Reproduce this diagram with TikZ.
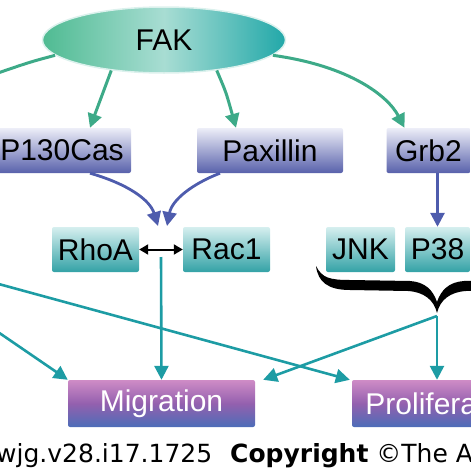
\documentclass[tikz,border=0pt]{standalone}
\usepackage{fontspec}
\setmainfont{Liberation Sans}
\newfontfamily\notefont{DejaVu Sans}
\usetikzlibrary{arrows.meta,calc,positioning,shapes.geometric}
\definecolor{fakleft}{HTML}{4FBB92}
\definecolor{fakmid}{HTML}{A8DDD3}
\definecolor{fakright}{HTML}{22A8A9}
\definecolor{arrgreen}{HTML}{3DAA88}
\definecolor{bluetop}{HTML}{EDEEF8}
\definecolor{bluebot}{HTML}{5861AB}
\definecolor{bluearr}{HTML}{4E5CAD}
\definecolor{tealtop}{HTML}{D6EFEF}
\definecolor{tealbot}{HTML}{33A2A6}
\definecolor{tealarr}{HTML}{1D9CA4}
\definecolor{pinktop}{HTML}{CF8CC6}
\definecolor{purplemid}{HTML}{9460AE}
\definecolor{purplebot}{HTML}{4C6DB8}

\begin{document}
\begin{tikzpicture}[x=1pt,y=-1pt,>={Triangle[length=14pt,width=14pt]},
  lbl/.style={font=\fontsize{30}{32}\selectfont,inner sep=0pt,minimum height=45pt,rounded corners=2pt},
  bluebox/.style={lbl,top color=bluetop,bottom color=bluebot},
  tealbox/.style={lbl,top color=tealtop,bottom color=tealbot},
  endbox/.style={lbl,minimum height=47pt,minimum width=187pt,text=white,top color=pinktop,bottom color=purplebot,middle color=purplemid},
  greenarr/.style={->,line width=3pt,draw=arrgreen},
  bluearrow/.style={->,line width=2.8pt,draw=bluearr},
  tealline/.style={->,line width=2.6pt,draw=tealarr}]
\useasboundingbox (0,0) rectangle (471,471);
\clip (0,0) rectangle (471,471);

% Kinase on top, shaded from green to teal.
\node[ellipse,minimum width=243pt,minimum height=66pt,inner sep=0pt,draw=white!60!fakmid,line width=1.5pt,
  left color=fakleft,right color=fakright,middle color=fakmid,font=\fontsize{30}{32}\selectfont] (FAK) at (164,40) {FAK};

% Adaptor row.
\node[bluebox,minimum width=138pt] (P130) at (62,150.5) {P130Cas};
\node[bluebox,minimum width=146pt] (Pax) at (270,150.5) {Paxillin};
\node[bluebox,minimum width=84pt] (Grb2) at (428.5,150.5) {Grb2};

% GTPases and MAP kinases.
\node[tealbox,minimum width=87pt] (RhoA) at (95.5,249.5) {RhoA};
\node[tealbox,minimum width=87pt] (Rac1) at (226.5,249.5) {Rac1};
\node[tealbox,minimum width=69pt] (JNK) at (360.5,249.5) {JNK};
\node[tealbox,minimum width=65pt] (P38) at (437.5,249.5) {P38};

% Outcomes.
\node[endbox] (Mig) at (161.5,403.5) {Migration};
\node[endbox] (Prol) at (445.5,403.5) {Proliferation};

% Free ends and junctions.
\coordinate (offleft) at (-5,74);
\coordinate (join) at (162,226);
\coordinate (mid) at (161,257);
\coordinate (brtip) at (437,316);
\coordinate (in1) at (-5,283);
\coordinate (in2) at (-5,330);

% FAK signals down to the adaptors.
\draw[line width=3pt,arrgreen] (FAK.188) .. controls (30,62) .. (offleft);
\draw[greenarr] (FAK.210) .. controls (103,92) .. ([xshift=28pt]P130.north);
\draw[greenarr] (FAK.330) .. controls (226,92) .. ([xshift=-34pt]Pax.north);
\draw[greenarr] (FAK.352) .. controls (350,66) and (388,96) .. ([xshift=-24pt]Grb2.north);

% Adaptors converge on the RhoA/Rac1 pair.
\draw[bluearrow] ([xshift=28pt]P130.south) .. controls (128,184) and (150,200) .. ([xshift=-4pt]join);
\draw[bluearrow] ([xshift=-50pt]Pax.south) .. controls (192,184) and (172,200) .. ([xshift=5pt]join);
\draw[bluearrow] (Grb2.south -| P38.north) -- (P38.north);
\draw[<->,>={Triangle[length=9pt,width=10pt]},line width=2pt,black] (RhoA.east) -- (Rac1.west);

% Brace under the MAP kinases.
\fill[black] (316,266) .. controls (322,278) and (330,280) .. (350,280) -- (410,281)
  .. controls (425,282) and (433,290) .. (437,302)
  .. controls (441,290) and (449,282) .. (464,281) -- (524,280)
  .. controls (544,280) and (552,278) .. (558,266)
  .. controls (556,282) and (546,290) .. (524,290) -- (466,291)
  .. controls (450,292) and (440,300) .. (437,313)
  .. controls (434,300) and (424,292) .. (408,291) -- (350,290)
  .. controls (328,290) and (318,282) .. (316,266) -- cycle;

% Teal links to the outcomes.
\draw[tealline] (in1) -- ([xshift=-2pt]Prol.north west);
\draw[tealline] (in2) -- (Mig.north west);
\draw[tealline] (mid) -- (Mig.north);
\draw[tealline] (brtip) -- (Prol.north -| brtip);
\draw[tealline] (brtip) -- ([xshift=8pt]Mig.north east);

% Caption line.
\node[anchor=base west,inner sep=0pt,font=\notefont\fontsize{25}{28}\selectfont] (doi) at (-4,462) {wjg.v28.i17.1725};
\node[anchor=base west,inner sep=0pt,font=\notefont\fontsize{25}{28}\selectfont] (copy) at (230,462) {\textbf{Copyright} ©The Author(s)};
\end{tikzpicture}
\end{document}
